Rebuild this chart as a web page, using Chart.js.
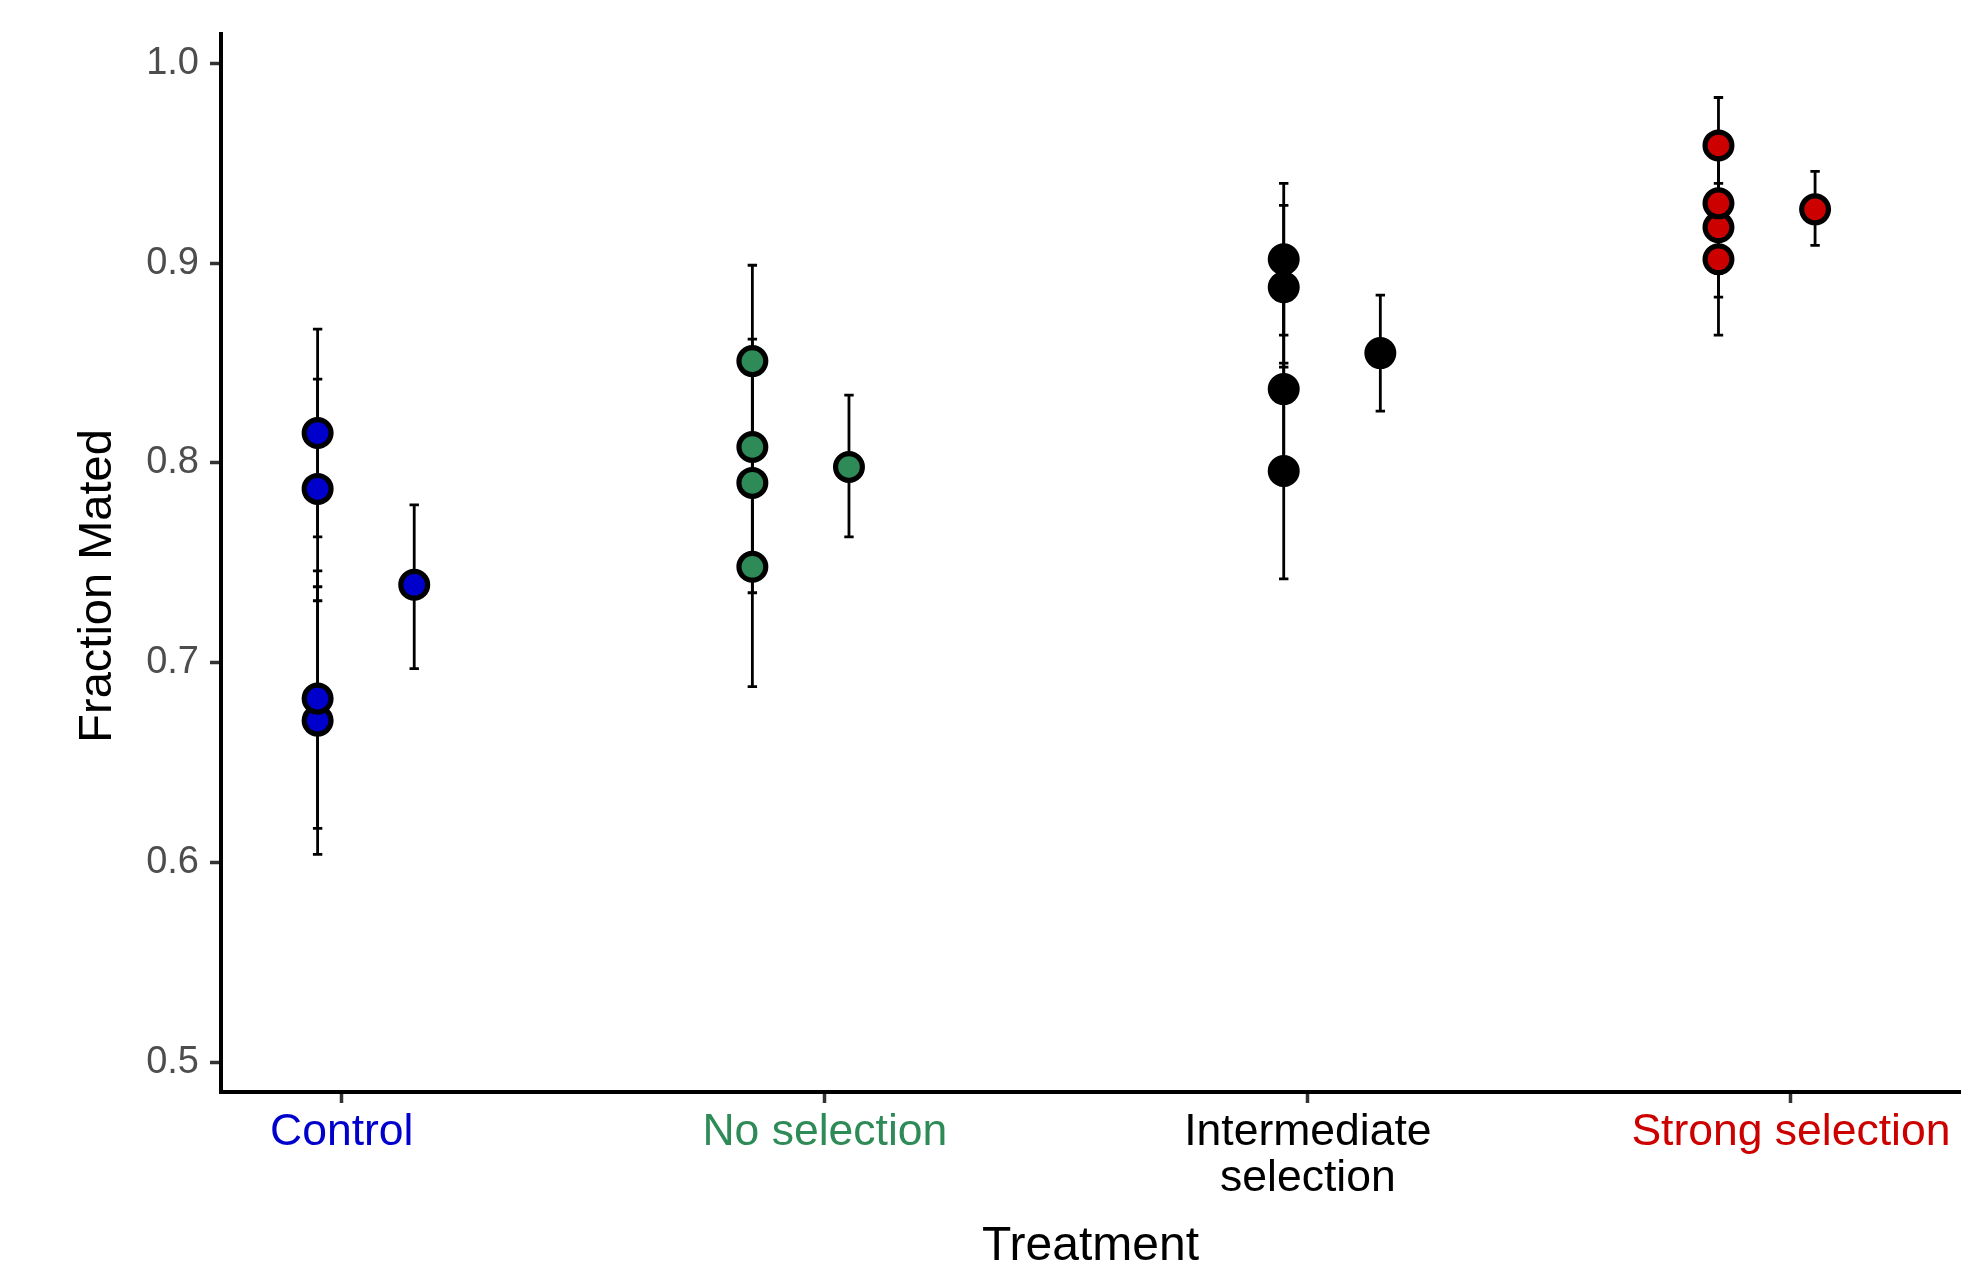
<!DOCTYPE html>
<html>
<head>
<meta charset="utf-8">
<title>Fraction mated by treatment</title>
<script src="https://cdn.jsdelivr.net/npm/chart.js@4.4.1/dist/chart.umd.min.js"></script>
<style>
  html, body { margin: 0; padding: 0; background: #fff; }
  canvas { display: block; }
</style>
</head>
<body>
<canvas id="myChart" width="1983" height="1261"></canvas>
<script>
// treatments in axis order
const treatments = ['Control', 'No selection', 'Intermediate selection', 'Strong selection'];
const tickLabels = [['Control'], ['No selection'], ['Intermediate', 'selection'], ['Strong selection']];
const yTicks = [0.5, 0.6, 0.7, 0.8, 0.9, 1.0];

// replicate lines, one row per treatment (low to high)
const lineFraction = [
    [0.671, 0.682, 0.787, 0.815],
    [0.748, 0.790, 0.808, 0.851],
    [0.796, 0.837, 0.888, 0.902],
    [0.902, 0.918, 0.930, 0.959]
];
const lineLower = [
    [0.604, 0.617, 0.731, 0.763],
    [0.688, 0.735, 0.754, 0.802],
    [0.742, 0.789, 0.848, 0.864],
    [0.864, 0.883, 0.895, 0.935]
];
const lineUpper = [
    [0.738, 0.746, 0.842, 0.867],
    [0.808, 0.845, 0.862, 0.899],
    [0.850, 0.885, 0.929, 0.940],
    [0.940, 0.953, 0.965, 0.983]
];

// treatment means
const meanFraction = [0.739, 0.798, 0.855, 0.927];
const meanLower = [0.697, 0.763, 0.826, 0.909];
const meanUpper = [0.779, 0.834, 0.884, 0.946];

const colors = ['#0000CD', '#2E8B57', '#000000', '#CD0000'];
// dodge of the replicate column and the mean within a treatment
const lineShift = [-0.05, -0.15, -0.05, -0.15];
const meanShift = [0.15, 0.05, 0.15, 0.05];

const FONT = "'Liberation Sans', Arial, sans-serif";
Chart.defaults.font.family = FONT;

const datasets = treatments.map((name, i) => ({
    label: name,
    data: lineFraction[i].map((v, j) => ({ x: i + lineShift[i], y: v, lo: lineLower[i][j], hi: lineUpper[i][j] }))
        .concat([{ x: i + meanShift[i], y: meanFraction[i], lo: meanLower[i], hi: meanUpper[i] }]),
    backgroundColor: colors[i],
    borderColor: '#000',
    borderWidth: 5.2,
    pointRadius: 13.4,
    pointHoverRadius: 13.4
}));

// interval whiskers, drawn under the points
const errorBars = {
    id: 'errorBars',
    beforeDatasetsDraw(chart) {
        const { ctx } = chart;
        const y = chart.scales.y;
        ctx.save();
        ctx.strokeStyle = '#000';
        ctx.lineWidth = 2.8;
        chart.data.datasets.forEach((ds, i) => {
            chart.getDatasetMeta(i).data.forEach((pt, j) => {
                const top = y.getPixelForValue(ds.data[j].hi);
                const bottom = y.getPixelForValue(ds.data[j].lo);
                ctx.beginPath();
                ctx.moveTo(pt.x, top);
                ctx.lineTo(pt.x, bottom);
                ctx.moveTo(pt.x - 4.7, top);
                ctx.lineTo(pt.x + 4.7, top);
                ctx.moveTo(pt.x - 4.7, bottom);
                ctx.lineTo(pt.x + 4.7, bottom);
                ctx.stroke();
            });
        });
        ctx.restore();
    }
};

// y title sits a little below the panel centre in the original
const yTitle = {
    id: 'yTitle',
    afterDraw(chart) {
        const { ctx, chartArea } = chart;
        ctx.save();
        ctx.translate(98, (chartArea.top + chartArea.bottom) / 2 + 23);
        ctx.rotate(-Math.PI / 2);
        ctx.font = '47px ' + FONT;
        ctx.fillStyle = '#000';
        ctx.textAlign = 'center';
        ctx.textBaseline = 'middle';
        ctx.fillText('Fraction Mated', 0, 0);
        ctx.restore();
    }
};

const tickGrid = { drawOnChartArea: false, tickLength: 11, tickWidth: 3.5, tickColor: '#333333' };
const axisBorder = { display: true, color: '#000', width: 4 };

new Chart(document.getElementById('myChart'), {
    type: 'scatter',
    data: { datasets },
    plugins: [errorBars, yTitle],
    options: {
        responsive: false,
        animation: false,
        events: [],
        layout: { padding: { top: 32, right: 23, left: 0, bottom: 0 } },
        plugins: { legend: { display: false }, tooltip: { enabled: false } },
        scales: {
            x: {
                type: 'linear',
                min: -0.25,
                max: 3.35,
                afterBuildTicks: (s) => { s.ticks = treatments.map((t, i) => ({ value: i })); },
                afterFit: (s) => { s.height = 169; },
                grid: tickGrid,
                border: axisBorder,
                ticks: {
                    autoSkip: false,
                    maxRotation: 0,
                    padding: 6,
                    callback: (v, i) => tickLabels[i],
                    color: (c) => colors[c.index],
                    font: { size: 44.5, lineHeight: 1.05 }
                },
                title: {
                    display: true,
                    text: 'Treatment',
                    color: '#000',
                    font: { size: 48, lineHeight: 0.5 },
                    padding: { top: 0, bottom: 2 }
                }
            },
            y: {
                min: 0.485,
                max: 1.0149,
                afterBuildTicks: (s) => { s.ticks = yTicks.map(v => ({ value: v })); },
                afterFit: (s) => { s.width = 221; },
                grid: tickGrid,
                border: axisBorder,
                ticks: {
                    padding: 11,
                    color: '#4D4D4D',
                    callback: (v) => v.toFixed(1),
                    font: { size: 38 }
                }
            }
        }
    }
});
</script>
</body>
</html>
